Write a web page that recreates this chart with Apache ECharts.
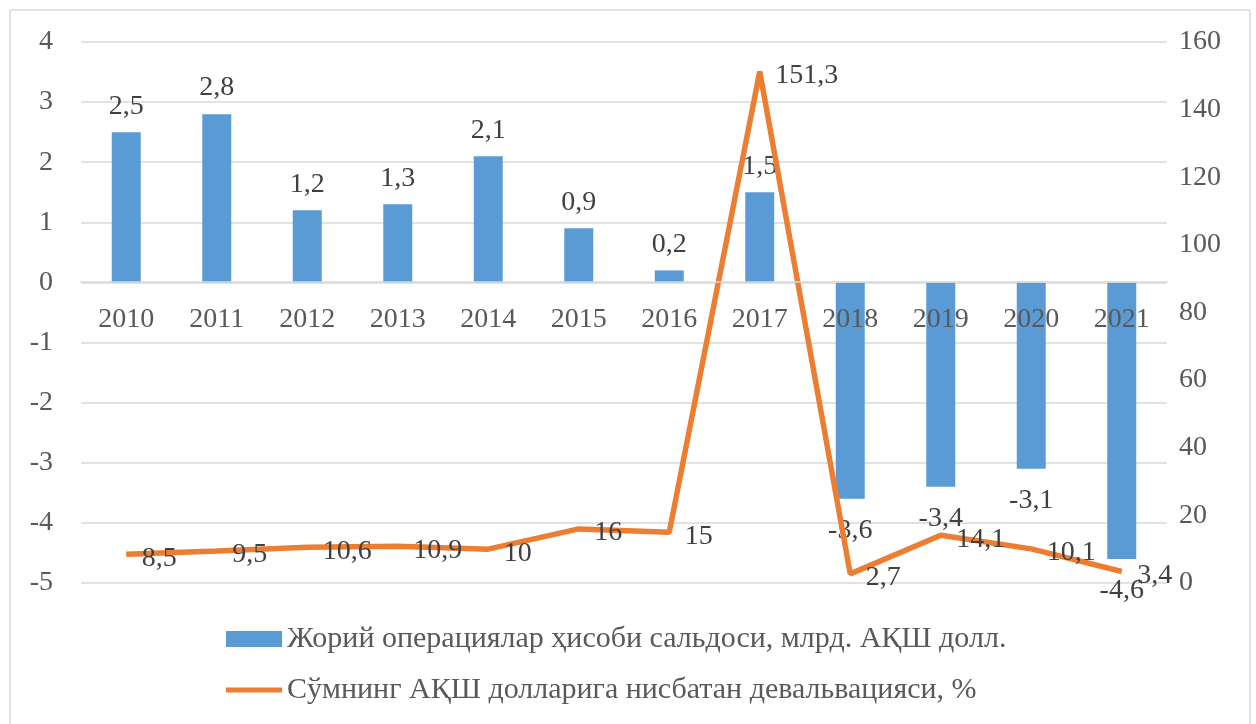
<!DOCTYPE html>
<html>
<head>
<meta charset="utf-8">
<script src="https://cdn.jsdelivr.net/npm/echarts@6/dist/echarts.min.js"></script>
<style>
  html,body{margin:0;padding:0;background:#fff;}
  #echarts{width:1256px;height:724px;}
</style>
</head>
<body>
<div id="echarts"></div>
<script>
var years=['2010','2011','2012','2013','2014','2015','2016','2017','2018','2019','2020','2021'];
var balance=[2.5,2.8,1.2,1.3,2.1,0.9,0.2,1.5,-3.6,-3.4,-3.1,-4.6];
var devaluation=[8.5,9.5,10.6,10.9,10,16,15,151.3,2.7,14.1,10.1,3.4];
var barName='Жорий операциялар ҳисоби сальдоси, млрд. АҚШ долл.';
var lineName='Сўмнинг АҚШ долларига нисбатан девальвацияси, %';

function comma(v){
    return String(v).replace('.',',');
}
function harmony(){
    var myChart=echarts.init(document.getElementById('echarts'));
    var font='Liberation Serif';
    var fs=28;
    var option={
        animation:false,
        textStyle:{fontFamily:font},
        graphic:[{
            type:'rect',
            shape:{x:10,y:10,width:1240,height:740,r:2},
            style:{fill:'none',stroke:'#d9d9d9',lineWidth:1.5},
            silent:true
        }],
        grid:{left:81,right:89,top:42,bottom:141},
        legend:{
            orient:'vertical',
            left:221,
            top:619,
            itemGap:21,
            itemWidth:56,
            itemHeight:16,
            textStyle:{fontFamily:font,fontSize:30,color:'#595959'},
            data:[
                {name:barName,icon:'rect'},
                {name:lineName,icon:'path://M0,0 L56,0 L56,5 L0,5 Z'}
            ]
        },
        xAxis:{
            type:'category',
            data:years,
            // the axis sits on the zero line of the left scale
            offset:-301,
            z:10,
            axisLine:{onZero:false,lineStyle:{color:'#d9d9d9',width:1.5}},
            axisTick:{show:false},
            axisLabel:{fontFamily:font,fontSize:fs,color:'#595959',margin:24}
        },
        yAxis:[
            {
                type:'value',
                min:-5,
                max:4,
                interval:1,
                axisLine:{show:false},
                axisTick:{show:false},
                axisLabel:{fontFamily:font,fontSize:fs,color:'#595959',margin:28},
                splitLine:{lineStyle:{color:'#d9d9d9',width:1.5}}
            },
            {
                type:'value',
                min:0,
                max:160,
                interval:20,
                axisLine:{show:false},
                axisTick:{show:false},
                axisLabel:{fontFamily:font,fontSize:fs,color:'#595959',margin:12},
                splitLine:{show:false}
            }
        ],
        series:[
            {
                name:barName,
                type:'bar',
                barWidth:29,
                yAxisIndex:0,
                itemStyle:{color:'#5b9bd5'},
                label:{
                    show:true,
                    fontFamily:font,
                    fontSize:fs,
                    color:'#404040',
                    formatter:function(p){return comma(p.value);}
                },
                data:balance.map(function(v){
                    return {value:v,label:v<0?{position:'bottom',distance:18}:{position:'top',distance:12}};
                }),
                z:2
            },
            {
                name:lineName,
                type:'line',
                yAxisIndex:1,
                symbol:'circle',
                symbolSize:1,
                showSymbol:true,
                lineStyle:{color:'#ed7d31',width:5.5},
                itemStyle:{color:'#ed7d31'},
                label:{
                    show:true,
                    position:'right',
                    distance:15,
                    offset:[0,4],
                    fontFamily:font,
                    fontSize:fs,
                    color:'#404040',
                    formatter:function(p){return comma(p.value);}
                },
                data:devaluation,
                z:3
            }
        ]
    };
    myChart.setOption(option);
}
harmony();
</script>
</body>
</html>
